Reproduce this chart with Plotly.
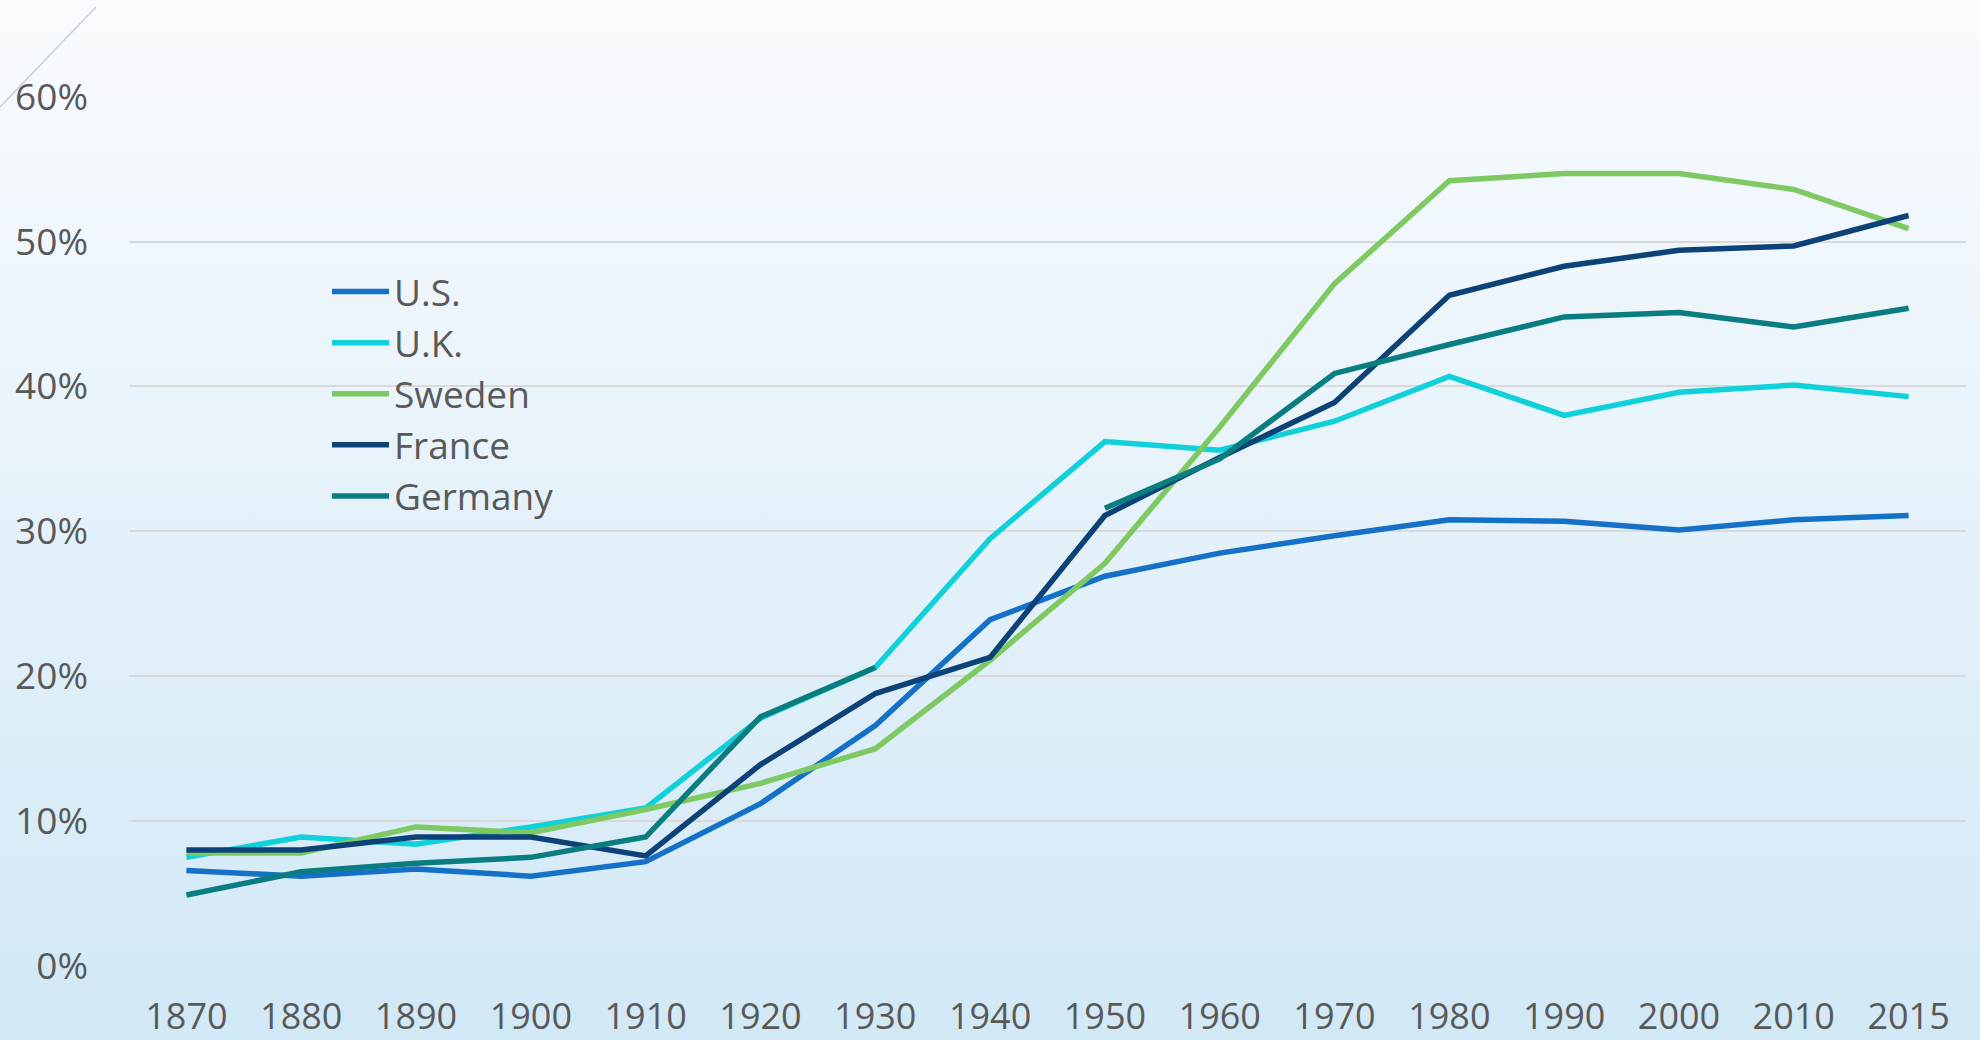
import base64
import plotly.graph_objects as go

years = ["1870", "1880", "1890", "1900", "1910", "1920", "1930", "1940",
         "1950", "1960", "1970", "1980", "1990", "2000", "2010", "2015"]

us = [0.066, 0.062, 0.067, 0.062, 0.072, 0.112, 0.166, 0.239,
      0.269, 0.285, 0.297, 0.308, 0.307, 0.301, 0.308, 0.311]
uk = [0.075, 0.089, 0.084, 0.096, 0.109, 0.171, 0.206, 0.295,
      0.362, 0.356, 0.376, 0.407, 0.380, 0.396, 0.401, 0.393]
sweden = [0.078, 0.078, 0.096, 0.092, 0.108, 0.126, 0.150, 0.211,
          0.278, 0.372, 0.471, 0.542, 0.547, 0.547, 0.536, 0.509]
france = [0.080, 0.080, 0.089, 0.089, 0.076, 0.139, 0.188, 0.213,
          0.311, 0.351, 0.389, 0.463, 0.483, 0.494, 0.497, 0.518]
germany = [0.049, 0.065, 0.071, 0.075, 0.089, 0.172, 0.206, None,
           0.316, 0.350, 0.409, 0.429, 0.448, 0.451, 0.441, 0.454]

series_names = ["U.S.", "U.K.", "Sweden", "France", "Germany"]
series_values = [us, uk, sweden, france, germany]
series_colors = ["#1570c8", "#10d0da", "#7ec962", "#0c4277", "#0a7d80"]

y_ticks = [0, 0.1, 0.2, 0.3, 0.4, 0.5, 0.6]
y_tick_labels = ["0%", "10%", "20%", "30%", "40%", "50%", "60%"]

W, H = 1980, 1040
ML, MR, MT, MB = 129, 14, 96, 74
PW, PH = W - ML - MR, H - MT - MB

fig = go.Figure()
for name, vals, col in zip(series_names, series_values, series_colors):
    fig.add_trace(go.Scatter(
        x=years, y=vals, name=name, mode="lines",
        line=dict(color=col, width=5.5),
        connectgaps=False, hoverinfo="skip",
    ))

# background gradient via svg image
svg = ('<svg xmlns="http://www.w3.org/2000/svg" width="100" height="100" viewBox="0 0 100 100" '
       'preserveAspectRatio="none">'
       '<defs><linearGradient id="g" x1="0" y1="0" x2="0" y2="1">'
       '<stop offset="0" stop-color="#f9fbfe"/><stop offset="1" stop-color="#d1e8f6"/>'
       '</linearGradient></defs><rect x="0" y="0" width="100" height="100" fill="url(#g)"/></svg>')
uri = "data:image/svg+xml;base64," + base64.b64encode(svg.encode()).decode()
fig.add_layout_image(dict(
    source=uri, xref="paper", yref="paper",
    x=-ML / PW, y=(H - MB) / PH, sizex=W / PW, sizey=H / PH,
    xanchor="left", yanchor="top", sizing="stretch", layer="below",
))

# decorative diagonal line top-left
fig.add_shape(type="line", xref="paper", yref="paper",
              x0=(0 - ML) / PW, y0=(H - MB - 107) / PH,
              x1=(96 - ML) / PW, y1=(H - MB - 7) / PH,
              line=dict(color="#c3d0de", width=1.5))

font_family = "Open Sans, Noto Sans, sans-serif"
fig.update_layout(
    width=W, height=H,
    margin=dict(l=ML, r=MR, t=MT, b=MB, pad=0, autoexpand=False),
    paper_bgcolor="#e6f2fb",
    plot_bgcolor="rgba(0,0,0,0)",
    font=dict(family=font_family, color="#595959", size=37),
    showlegend=True,
    legend=dict(
        x=(327 - ML) / PW, y=(H - MB - 261) / PH, xanchor="left", yanchor="top",
        bgcolor="rgba(0,0,0,0)", borderwidth=0,
        font=dict(size=37, color="#595959", family=font_family),
        itemwidth=57, tracegroupgap=0,
    ),
    xaxis=dict(
        type="category", range=[-0.5, len(years) - 0.5], automargin=False,
        showgrid=False, zeroline=False, showline=False,
        ticks="", tickfont=dict(size=36, color="#595959"),
        ticklabelstandoff=26, fixedrange=True,
    ),
    yaxis=dict(
        range=[0, 0.6005], tickvals=y_ticks, ticktext=y_tick_labels, automargin=False,
        showgrid=True, gridcolor="#d9d9d9", gridwidth=2,
        zeroline=False, showline=False, ticks="",
        tickfont=dict(size=37, color="#595959"),
        ticklabelstandoff=40, fixedrange=True,
    ),
    hovermode=False,
)

fig.write_html("out.html", config={"displayModeBar": False},
               post_script="document.body.style.margin='0';document.body.style.overflow='hidden';")
